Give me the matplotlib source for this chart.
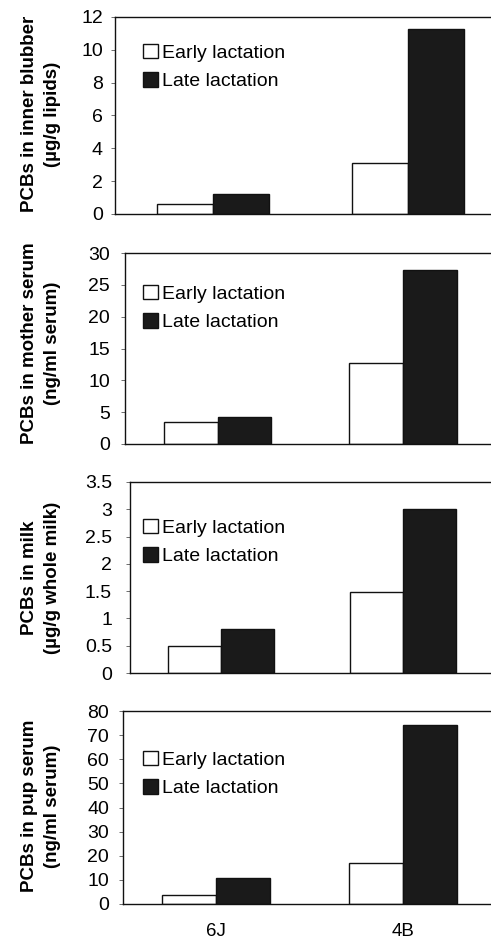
import matplotlib
matplotlib.use("Agg")
import matplotlib.pyplot as plt
import numpy as np
from matplotlib.patches import Patch

plt.rcParams['font.family'] = ['Liberation Sans', 'DejaVu Sans']

groups = ["6J", "4B"]
series = ["Early lactation", "Late lactation"]

blubber_early = [0.61, 3.09]
blubber_late = [1.22, 11.27]
mserum_early = [3.4, 12.8]
mserum_late = [4.2, 27.3]
milk_early = [0.50, 1.49]
milk_late = [0.80, 3.0]
pup_early = [3.7, 17.2]
pup_late = [10.7, 74.3]

ylabels = ["PCBs in inner blubber\n(µg/g lipids)",
           "PCBs in mother serum\n(ng/ml serum)",
           "PCBs in milk\n(µg/g whole milk)",
           "PCBs in pup serum\n(ng/ml serum)"]
yticks = [np.arange(0, 13, 2), np.arange(0, 31, 5), np.arange(0, 3.6, 0.5), np.arange(0, 81, 10)]
yticklabels = [[str(int(v)) for v in yticks[0]],
               [str(int(v)) for v in yticks[1]],
               ["0", "0.5", "1", "1.5", "2", "2.5", "3", "3.5"],
               [str(int(v)) for v in yticks[3]]]
ylims = [12, 30, 3.5, 80]
data = [(blubber_early, blubber_late), (mserum_early, mserum_late),
        (milk_early, milk_late), (pup_early, pup_late)]

W, H = 491, 942
fig = plt.figure(figsize=(W / 100, H / 100), dpi=100)

# pixel boxes: left, top, right, bottom
boxes = [(115, 17, 506, 214), (125, 253, 495.5, 444), (130, 482, 494, 673), (123, 711, 496, 904)]
label_y = [114, 343, 578, 806]
widths = [0.286, 0.29, 0.29, 0.29]
pads = [5.8, 7.9, 10.0, 7.2]
legend_row1 = [51, 292, 526, 758]

x = np.arange(len(groups))
for i, (l, t, r, b) in enumerate(boxes):
    ax = fig.add_axes([l / W, 1 - b / H, (r - l) / W, (b - t) / H])
    e, la = data[i]
    w = widths[i]
    ax.bar(x - w / 2, e, w, color="white", edgecolor="#111111", linewidth=1.0)
    ax.bar(x + w / 2, la, w, color="#1a1a1a", edgecolor="#111111", linewidth=1.0)
    ax.set_xlim(-0.5, 1.5)
    ax.set_ylim(0, ylims[i])
    ax.set_yticks(yticks[i])
    ax.set_yticklabels(yticklabels[i], fontsize=14)
    ax.tick_params(axis='y', length=2.9, width=0.6, pad=pads[i], color="#555555")
    ax.spines['right'].set_visible(False)
    for s in ['left', 'top', 'bottom']:
        ax.spines[s].set_linewidth(1.0)
        ax.spines[s].set_color("#111111")
    if i == 3:
        ax.set_xticks(x)
        ax.set_xticklabels(groups, fontsize=13.5)
        ax.tick_params(axis='x', length=0, pad=14)
    else:
        ax.set_xticks([])
    handles = [Patch(facecolor="white", edgecolor="#111111", linewidth=1.0),
               Patch(facecolor="#1a1a1a", edgecolor="#111111", linewidth=1.0)]
    ax_x = (135.7 - l) / (r - l)
    ax_y = (b - (legend_row1[i] - 15)) / (b - t)
    ax.legend(handles, series, loc="upper left", bbox_to_anchor=(ax_x, ax_y),
              frameon=False, fontsize=14, handlelength=0.75, handleheight=0.75,
              handletextpad=0.2, labelspacing=0.55, borderaxespad=0)
    fig.text(41 / W, 1 - label_y[i] / H, ylabels[i], rotation=90, ha="center", va="center",
             fontsize=13.5, fontweight="bold", multialignment="center", linespacing=1.5)

fig.savefig("out.png", dpi=100)
